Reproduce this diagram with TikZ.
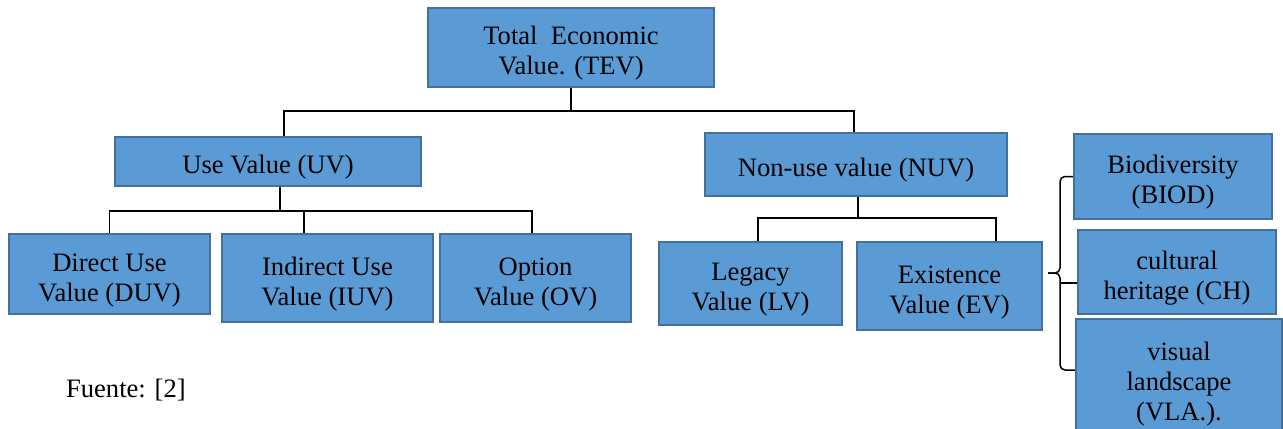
\documentclass[tikz,border=0pt]{standalone}
\usepackage{fontspec}
\setmainfont{Liberation Serif}
\definecolor{boxfill}{HTML}{5B9BD5}
\definecolor{boxline}{HTML}{41719C}

\begin{document}
\begin{tikzpicture}[x=0.5pt,y=-0.5pt,
  valuebox/.style={draw=boxline,fill=boxfill,line width=1.2pt,inner sep=0pt,
    align=center,text height=12pt,text depth=0pt,font=\fontsize{13.3}{15}\selectfont},
  twoline/.style={text height=27pt},
  threeline/.style={text height=42pt},
  link/.style={line width=0.75pt}]

\useasboundingbox (0,0) rectangle (1283,428);

\node[valuebox,twoline,minimum width=143pt,minimum height=39.5pt] (TEV) at (571,47.5) {Total\ \ Economic\\Value. (TEV)};

\node[valuebox,minimum width=153pt,minimum height=24.5pt] (UV) at (268,161.5) {Use Value (UV)};
\node[valuebox,minimum width=151pt,minimum height=31.5pt] (NUV) at (856,164.5) {Non-use value (NUV)};

\node[valuebox,twoline,minimum width=100.5pt,minimum height=40pt] (DUV) at (109.5,274) {Direct Use\\Value (DUV)};
\node[valuebox,twoline,minimum width=105.5pt,minimum height=44pt] (IUV) at (327.5,278) {Indirect Use\\Value (IUV)};
\node[valuebox,twoline,minimum width=95.5pt,minimum height=44pt] (OV) at (535.5,278) {Option\\Value (OV)};

\node[valuebox,twoline,minimum width=91.5pt,minimum height=41.5pt] (LV) at (750.5,283.5) {Legacy\\Value (LV)};
\node[valuebox,twoline,minimum width=92.5pt,minimum height=44pt] (EV) at (949.5,286) {Existence\\Value (EV)};

\node[valuebox,twoline,minimum width=99pt,minimum height=42.5pt] (BIOD) at (1173,176.5) {Biodiversity\\(BIOD)};
\node[valuebox,twoline,minimum width=99pt,minimum height=42pt] (CH) at (1177,272) {cultural\\heritage (CH)};
\node[valuebox,threeline,minimum width=103pt,minimum height=59pt] (VLA) at (1179,378) {visual\\landscape\\(VLA.).};

\node[anchor=base west,font=\fontsize{13.3}{15}\selectfont] (src) at (59,397) {Fuente: [2]};

\coordinate (tevbus) at (571,111);
\coordinate (uvbus) at (280,211);
\coordinate (nuvbus) at (858,218);
\coordinate (tip) at (1048,273);
\coordinate (spine) at (1060,273);
\coordinate (chtick) at (1060,283);

\draw[link] (TEV.south) -- (tevbus);
\draw[link] ([xshift=8pt]UV.north) |- (tevbus) -| ([xshift=-1pt]NUV.north);

\draw[link] ([xshift=6pt]UV.south) -- (uvbus);
\draw[link] (DUV.north) |- (uvbus) -| ([xshift=-1.75pt]OV.north);
\draw[link] ([xshift=-11.75pt]IUV.north) -- ([xshift=-11.75pt]IUV.north |- uvbus);

\draw[link] ([xshift=1pt]NUV.south) -- (nuvbus);
\draw[link] ([xshift=3.75pt]LV.north) |- (nuvbus) -| ([xshift=23.25pt]EV.north);

\draw[link,rounded corners=2.5pt] (BIOD.west) -| (spine) -- (tip);
\draw[link,rounded corners=2.5pt] ([yshift=4pt]VLA.west) -| (spine) -- (tip);
\draw[link] (chtick) -- (chtick -| CH.west);

\end{tikzpicture}
\end{document}
